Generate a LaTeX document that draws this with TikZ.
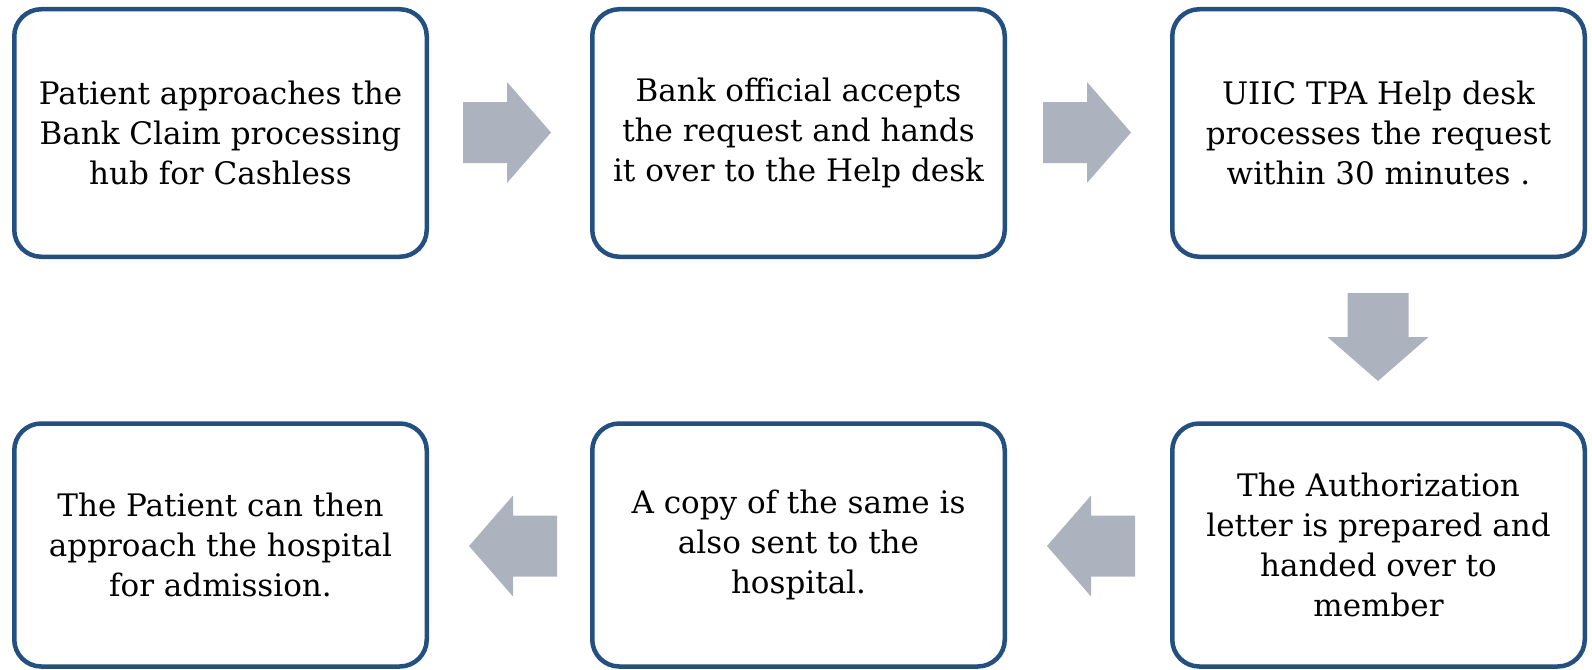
\documentclass[tikz,border=0pt]{standalone}
\usepackage{fontspec}
\setmainfont{DejaVu Serif}
\definecolor{boxblue}{RGB}{36,79,129}
\definecolor{arrowgray}{RGB}{173,178,191}
\tikzset{
  stepbox/.style={draw=boxblue, line width=4.5pt, rounded corners=27pt, fill=white,
    minimum width=412.5pt, align=center, inner sep=0pt,
    font=\fontsize{31}{40}\selectfont},
  toprow/.style={minimum height=247.5pt},
  botrow/.style={minimum height=243pt},
  blockarrow/.style={fill=arrowgray}
}
\newcommand{\blockarr}[3]{%
  \fill[blockarrow, shift={(#1,#2)}, rotate=#3]
    (-44,-30.5) -- (0,-30.5) -- (0,-50.5) -- (44,0) -- (0,50.5) -- (0,30.5) -- (-44,30.5) -- cycle;}
\begin{document}
\begin{tikzpicture}[x=1pt,y=-1pt]
\useasboundingbox (0,0) rectangle (1592,669);
\node[stepbox,toprow] (b1) at (220.5,133) {Patient approaches the\\Bank Claim processing\\hub for Cashless};
\node[stepbox,toprow] (b2) at (798.5,133) {Bank official accepts\\the request and hands\\it over to the Help desk};
\node[stepbox,toprow] (b3) at (1378.5,133) {UIIC TPA Help desk\\processes the request\\within 30 minutes .};
\node[stepbox,botrow] (b4) at (1378.5,545) {The Authorization\\letter is prepared and\\handed over to\\member};
\node[stepbox,botrow] (b5) at (798.5,545) {A copy of the same is\\also sent to the\\hospital.};
\node[stepbox,botrow] (b6) at (220.5,545) {The Patient can then\\approach the hospital\\for admission.};
\blockarr{507}{132.5}{0}
\blockarr{1087}{132.5}{0}
\blockarr{1378}{337}{-90}
\blockarr{1091}{546}{180}
\blockarr{513}{546}{180}
\end{tikzpicture}
\end{document}
